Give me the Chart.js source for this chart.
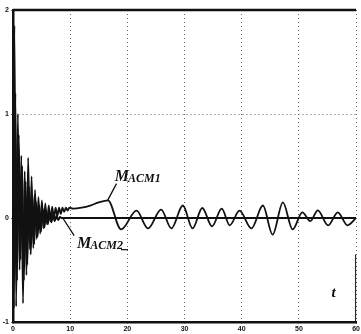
<!DOCTYPE html>
<html>
<head>
<meta charset="utf-8">
<script src="https://cdn.jsdelivr.net/npm/chart.js@4"></script>
<style>
  html, body { margin: 0; padding: 0; background: #fff; }
</style>
</head>
<body>
<canvas id="chart" width="361" height="334"></canvas>
<script>
// time axis and values
const acm1T = [0, 0.25, 0.55, 0.85, 1.15, 1.45, 1.75, 2.05, 2.35, 2.65, 2.95, 3.25, 3.55, 3.85, 4.15, 4.45, 4.75,
  5.05, 5.35, 5.65, 5.95, 6.25, 6.55, 6.85, 7.15, 7.45, 7.75, 8.05, 8.35, 8.65, 8.95, 9.25, 9.55, 9.85,
  10.5, 12, 13.5, 15, 16.6, 18.9, 21.6, 23.6, 25.9, 27.7, 29.7, 31.4, 33.1, 34.8, 36.5, 37.9, 39.6,
  41.7, 43.7, 45.4, 47.2, 48.9, 50.6, 52.0, 53.3, 55.1, 56.8, 58.5, 60]
const acm1V = [0, 1.85, -0.85, 1.0, -0.5, 0.6, -0.82, 0.45, -0.55, 0.58, -0.3, 0.4, -0.29, 0.27, -0.2, 0.2, -0.15,
  0.17, -0.1, 0.14, -0.06, 0.12, -0.03, 0.11, 0.0, 0.1, 0.02, 0.1, 0.04, 0.1, 0.06, 0.1, 0.07, 0.1,
  0.09, 0.1, 0.12, 0.15, 0.17, -0.11, 0.07, -0.1, 0.08, -0.1, 0.12, -0.1, 0.096, -0.08, 0.09, -0.07, 0.07,
  -0.1, 0.12, -0.16, 0.15, -0.11, 0.055, -0.03, 0.074, -0.07, 0.055, -0.07, 0.0]

const acm2T = [0, 0.15, 0.4, 0.7, 1.0, 1.3, 1.6, 1.9, 2.2, 2.5, 2.8, 3.1, 3.4, 3.7, 4.0, 4.3, 4.6, 4.9,
  5.2, 5.5, 5.8, 6.1, 6.4, 6.7, 7.0, 7.3, 7.6, 7.9, 8.2, 8.5, 60]
const acm2V = [0, -0.87, 1.2, -0.6, 0.8, -0.4, 0.5, -0.6, 0.35, -0.45, 0.3, -0.35, 0.22, -0.25, 0.16, -0.18, 0.12, -0.13,
  0.09, -0.09, 0.07, -0.06, 0.05, -0.04, 0.03, -0.03, 0.02, -0.02, 0.01, 0, 0]

const xTicks = [0, 10, 20, 30, 40, 50, 60]
const yTicks = [-1, 0, 1, 2]

const toPoints = (ts, vs) => ts.map((t, i) => ({ x: t, y: vs[i] }))

// labels, leader lines and the missing top/right frame
const notes = {
  id: 'notes',
  afterDatasetsDraw(chart) {
    const { ctx, chartArea: a, scales: { x, y } } = chart
    ctx.save()
    ctx.strokeStyle = '#111'
    ctx.lineWidth = 2.5
    ctx.beginPath()
    ctx.moveTo(a.left, a.top)
    ctx.lineTo(a.right, a.top)
    ctx.stroke()
    ctx.lineWidth = 1
    ctx.beginPath()
    ctx.moveTo(a.right - 0.5, y.getPixelForValue(-0.35))
    ctx.lineTo(a.right - 0.5, a.bottom)
    ctx.stroke()

    // leaders
    ctx.lineWidth = 1.3
    ctx.beginPath()
    ctx.moveTo(x.getPixelForValue(16.5), y.getPixelForValue(0.165))
    ctx.lineTo(x.getPixelForValue(18.1), y.getPixelForValue(0.33))
    ctx.moveTo(x.getPixelForValue(8.7), y.getPixelForValue(0))
    ctx.lineTo(x.getPixelForValue(10.7), y.getPixelForValue(-0.17))
    ctx.stroke()

    ctx.fillStyle = '#111'
    ctx.textBaseline = 'alphabetic'
    ctx.textAlign = 'left'
    const label = (tx, ty, sub) => {
      const px = x.getPixelForValue(tx), py = y.getPixelForValue(ty)
      ctx.font = 'italic bold 16px "Liberation Serif"'
      ctx.fillText('M', px, py)
      const w = ctx.measureText('M').width
      ctx.font = 'italic bold 12px "Liberation Serif"'
      ctx.fillText(sub, px + w - 1, py + 1)
      return px + w - 1 + ctx.measureText(sub).width
    }
    label(17.8, 0.36, 'ACM1')
    const end = label(11.2, -0.29, 'ACM2')
    ctx.beginPath()
    ctx.lineWidth = 1.2
    ctx.moveTo(end - 2, y.getPixelForValue(-0.29) + 1.5)
    ctx.lineTo(end + 5, y.getPixelForValue(-0.29) + 1.5)
    ctx.stroke()

    ctx.font = 'italic bold 15px "Liberation Serif"'
    ctx.fillText('t', x.getPixelForValue(55.7), y.getPixelForValue(-0.76))
    ctx.restore()
  }
}

new Chart(document.getElementById('chart'), {
  type: 'line',
  data: {
    datasets: [
      {
        label: 'MACM1',
        data: toPoints(acm1T, acm1V),
        borderColor: '#111',
        borderWidth: 1.8,
        pointRadius: 0,
        cubicInterpolationMode: 'monotone',
      },
      {
        label: 'MACM2',
        data: toPoints(acm2T, acm2V),
        borderColor: '#111',
        borderWidth: 2,
        pointRadius: 0,
        cubicInterpolationMode: 'monotone',
      },
    ],
  },
  options: {
    responsive: false,
    animation: false,
    layout: { padding: { top: 10, right: 1 } },
    plugins: { legend: { display: false }, tooltip: { enabled: false } },
    scales: {
      x: {
        type: 'linear',
        min: 0,
        max: 60,
        afterBuildTicks: s => { s.ticks = xTicks.map(v => ({ value: v })) },
        afterFit: s => { s.height = 12 },
        ticks: { font: { size: 7, weight: 'bold', family: 'Liberation Sans' }, color: '#111', padding: 1, maxRotation: 0 },
        grid: { color: '#666', lineWidth: 1, tickLength: 2 },
        border: { color: '#111', width: 2.5, dash: [1, 3] },
      },
      y: {
        min: -1,
        max: 2,
        afterBuildTicks: s => { s.ticks = yTicks.map(v => ({ value: v })) },
        afterFit: s => { s.width = 13 },
        ticks: { font: { size: 7, weight: 'bold', family: 'Liberation Sans' }, color: '#111', padding: 2 },
        grid: { color: '#666', lineWidth: 1, tickLength: 2 },
        border: { color: '#111', width: 2.5, dash: [1, 3] },
      },
    },
  },
  plugins: [notes],
})
</script>
</body>
</html>
